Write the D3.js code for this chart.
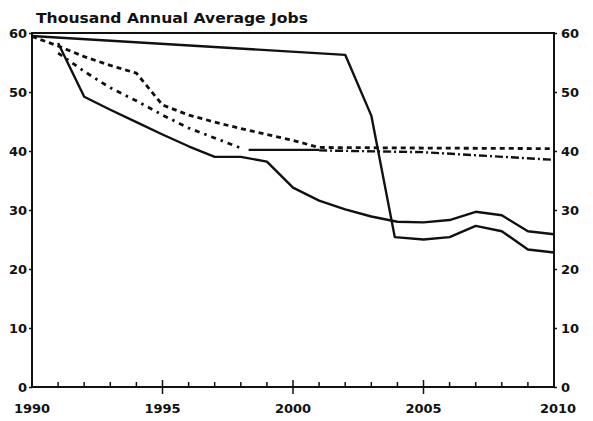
<!DOCTYPE html>
<html>
<head>
<meta charset="utf-8">
<script src="https://cdn.jsdelivr.net/npm/d3@7"></script>
<style>
  body { margin: 0; background: #fff; }
  svg { display: block; }
  text { font-family: "DejaVu Sans", "Liberation Sans", Arial, sans-serif; font-weight: bold; fill: #111; }
</style>
</head>
<body>
<svg id="chart" width="593" height="421"></svg>
<script>
// Thousand annual average jobs, 1990-2010
const yearTicks = [1990, 1995, 2000, 2005, 2010];
const valueTicks = [0, 10, 20, 30, 40, 50, 60];

// upper solid line: slow decline then sharp drop after 2002
const solidA = [
    [1990, 59.5], [2002, 56.3], [2003, 46.0], [2003.9, 25.4], [2005, 25.0],
    [2006, 25.4], [2007, 27.3], [2008, 26.4], [2009, 23.3], [2010, 22.8]
];
// lower solid line: early drop, levels off near 28
const solidB = [
    [1991, 58.3], [1992, 49.2], [1993, 47.0], [1994, 44.9], [1995, 42.8],
    [1996, 40.8], [1997, 39.0], [1998, 39.0], [1999, 38.2], [2000, 33.8],
    [2001, 31.6], [2002, 30.1], [2003, 28.9], [2004, 28.0], [2005, 27.9],
    [2006, 28.3], [2007, 29.7], [2008, 29.1], [2009, 26.4], [2010, 25.9]
];
// dashed line
const dashed = [
    [1990, 59.4], [1991, 57.8], [1992, 56.0], [1993, 54.5], [1994, 53.2],
    [1995, 47.8], [1996, 46.1], [1997, 44.9], [1998, 43.8], [1999, 42.8],
    [2000, 41.8], [2001, 40.6], [2005, 40.5], [2010, 40.4]
];
// dash-dot line
const dashDot = [
    [1991, 56.6], [1992, 53.5], [1993, 50.7], [1994, 48.5], [1995, 46.1],
    [1996, 43.9], [1997, 42.2], [1998, 40.5]
];
// short solid piece at 40 and its projection
const flatSolid = [[1998.3, 40.2], [2001, 40.2]];
const flatProjection = [[2001, 40.1], [2005, 39.8], [2010, 38.5]];

const svg = d3.select('#chart');

const x = d3.scaleLinear().domain([1990, 2010]).range([32, 554]);
const y = d3.scaleLinear().domain([0, 60]).range([387, 33]);

// Title
svg.append('text')
    .attr('x', 36)
    .attr('y', 23)
    .attr('font-size', 14.5)
    .attr('textLength', 272)
    .attr('lengthAdjust', 'spacingAndGlyphs')
    .text('Thousand Annual Average Jobs');

// Frame: top border line
svg.append('line')
    .attr('x1', x(1990)).attr('x2', x(2010))
    .attr('y1', y(60)).attr('y2', y(60))
    .attr('stroke', '#111')
    .attr('stroke-width', 2);

// Left and right value axes (outer ticks only, lines drawn below)
const gl = svg.append('g')
    .attr('transform', `translate(${x(1990)},0)`)
    .call(d3.axisLeft(y).tickValues(valueTicks).tickSize(3).tickPadding(2));

const gr = svg.append('g')
    .attr('transform', `translate(${x(2010)},0)`)
    .call(d3.axisRight(y).tickValues(valueTicks).tickSize(3).tickPadding(4));

[gl, gr].forEach(g => {
    g.select('.domain').remove();
    g.selectAll('.tick line').attr('stroke', '#111').attr('stroke-width', 1.5);
    g.selectAll('.tick text')
        .attr('font-size', 13)
        .attr('font-family', '"DejaVu Sans", "Liberation Sans", Arial, sans-serif')
        .attr('font-weight', 'bold')
        .attr('fill', '#111');
});

[x(1990), x(2010)].forEach(px => {
    svg.append('line')
        .attr('x1', px).attr('x2', px)
        .attr('y1', y(60) - 1).attr('y2', y(0))
        .attr('stroke', '#111')
        .attr('stroke-width', 2);
});

// Bottom axis: minor ticks inside every year, major ticks crossing every 5 years
const bottom = svg.append('g').attr('class', 'x-axis');
bottom.append('line')
    .attr('x1', x(1990)).attr('x2', x(2010))
    .attr('y1', y(0)).attr('y2', y(0))
    .attr('stroke', '#111')
    .attr('stroke-width', 2);

const years = d3.range(1991, 2010);
bottom.selectAll('.minor-tick')
    .data(years.filter(d => d % 5 !== 0))
    .enter()
    .append('line')
    .attr('class', 'minor-tick')
    .attr('x1', d => x(d)).attr('x2', d => x(d))
    .attr('y1', y(0) - 5).attr('y2', y(0))
    .attr('stroke', '#111')
    .attr('stroke-width', 1.5);

bottom.selectAll('.major-tick')
    .data(yearTicks.filter(d => d > 1990 && d < 2010))
    .enter()
    .append('line')
    .attr('class', 'major-tick')
    .attr('x1', d => x(d)).attr('x2', d => x(d))
    .attr('y1', y(0) - 7).attr('y2', y(0) + 7)
    .attr('stroke', '#111')
    .attr('stroke-width', 1.5);

bottom.selectAll('.year-label')
    .data(yearTicks)
    .enter()
    .append('text')
    .attr('class', 'year-label')
    .attr('x', d => x(d) + (d === 2010 ? 4 : 0))
    .attr('y', 413)
    .attr('text-anchor', 'middle')
    .attr('font-size', 13)
    .text(d => d);

// Series lines
const line = d3.line()
    .x(d => x(d[0]))
    .y(d => y(d[1]));

const series = [
    { data: solidA, dash: null, width: 2.4 },
    { data: solidB, dash: null, width: 2.4 },
    { data: dashed, dash: '5,4', width: 2.8 },
    { data: dashDot, dash: '5,5,2.5,5', width: 2.8 },
    { data: flatSolid, dash: null, width: 2.2 },
    { data: flatProjection, dash: '8,3,2,3', width: 2.4 }
];

svg.append('g')
    .attr('class', 'series')
    .selectAll('path')
    .data(series)
    .enter()
    .append('path')
    .attr('d', d => line(d.data))
    .attr('fill', 'none')
    .attr('stroke', '#111')
    .attr('stroke-width', d => d.width)
    .attr('stroke-dasharray', d => d.dash)
    .attr('stroke-linejoin', 'round');
</script>
</body>
</html>
